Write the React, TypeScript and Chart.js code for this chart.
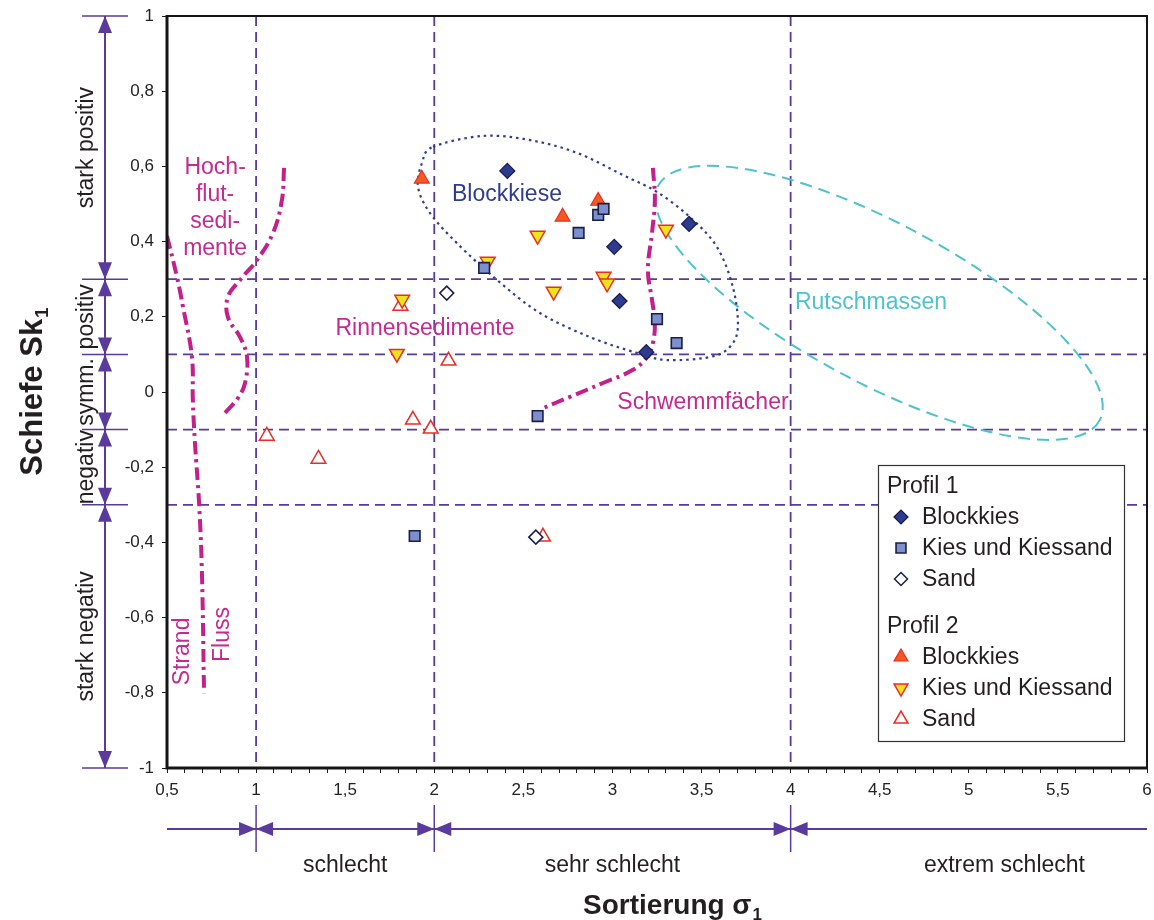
import React, { useEffect, useRef } from 'react';
import { Chart, registerables } from 'chart.js';
import { drawPoint } from 'chart.js/helpers';

Chart.register(...registerables);

// ---------- Data ----------
// Profil 1
const P1_BLOCK_X = [2.41, 3.01, 3.04, 3.43, 3.19];
const P1_BLOCK_Y = [0.588, 0.386, 0.242, 0.447, 0.106];
const P1_KIES_X = [2.28, 2.81, 2.92, 2.95, 3.25, 3.36, 2.58, 1.89];
const P1_KIES_Y = [0.33, 0.423, 0.471, 0.487, 0.194, 0.13, -0.064, -0.383];
const P1_SAND_X = [2.07, 2.57];
const P1_SAND_Y = [0.263, -0.386];
// Profil 2
const P2_BLOCK_X = [1.93, 2.72, 2.92];
const P2_BLOCK_Y = [0.567, 0.466, 0.508];
const P2_KIES_X = [2.3, 2.58, 2.67, 2.95, 2.97, 3.3, 1.82, 1.79];
const P2_KIES_Y = [0.347, 0.416, 0.267, 0.307, 0.289, 0.432, 0.246, 0.102];
const P2_SAND_X = [1.81, 2.08, 1.88, 1.98, 1.06, 1.35, 2.61];
const P2_SAND_Y = [0.229, 0.083, -0.074, -0.098, -0.117, -0.178, -0.385];

// Boundary curves (dash-dot)
const STRAND_X = [0.5, 0.556, 0.59, 0.64, 0.645, 0.657, 0.68, 0.696, 0.708];
const STRAND_Y = [0.415, 0.306, 0.226, 0.093, -0.021, -0.136, -0.295, -0.481, -0.801];
const HOCHFLUT_X = [1.157, 1.145, 1.095, 1.005, 0.91, 0.842, 0.842, 0.91, 0.949, 0.938, 0.898, 0.825];
const HOCHFLUT_Y = [0.596, 0.511, 0.423, 0.351, 0.298, 0.253, 0.199, 0.146, 0.093, 0.024, -0.016, -0.056];
const SCHWEMM_X = [3.227, 3.238, 3.222, 3.199, 3.222, 3.238, 3.227, 3.194, 3.115, 2.947, 2.761, 2.61];
const SCHWEMM_Y = [0.596, 0.511, 0.423, 0.324, 0.245, 0.184, 0.13, 0.093, 0.059, 0.024, -0.013, -0.043];

// Field outlines
const BLOCKKIESE_X = [1.993, 2.273, 2.537, 2.801, 3.059, 3.25, 3.435, 3.586, 3.676, 3.704, 3.659, 3.547, 3.306, 3.137, 2.874, 2.593, 2.352, 2.127, 1.976, 1.909, 1.931];
const BLOCKKIESE_Y = [0.652, 0.681, 0.67, 0.636, 0.577, 0.532, 0.465, 0.386, 0.279, 0.173, 0.12, 0.093, 0.085, 0.104, 0.146, 0.21, 0.298, 0.396, 0.476, 0.545, 0.609];
const RUTSCH_CENTER = [4.496, 0.237];
const RUTSCH_AXIS_END = [5.734, -0.0755];
const RUTSCH_RATIO = 0.32;

// Class boundaries
const V_LINES = [1, 2, 4];
const H_LINES = [0.3, 0.1, -0.1, -0.3];
const SKEW_BOUNDS = [1, 0.3, 0.1, -0.1, -0.3, -1];
const SKEW_CLASSES = ['stark positiv', 'positiv', 'symm.', 'negativ', 'stark negativ'];
const SORT_BOUNDS = [1, 2, 4];
const SORT_CLASSES = ['schlecht', 'sehr schlecht', 'extrem schlecht'];
const SORT_CLASS_AT = [1.5, 3, 5.2];

// ---------- Styles ----------
const FONT = '"Liberation Sans", Arial, Helvetica, sans-serif';
const PURPLE = '#5a3a9c';
const MAGENTA = '#c4208c';
const MAGENTA_TEXT = '#c42a8f';
const BLUE = '#2e3d8f';
const CYAN = '#4cc3cd';
const TEXT = '#231f20';

const SERIES = [
  { group: 'Profil 1', label: 'Blockkies', xs: P1_BLOCK_X, ys: P1_BLOCK_Y, style: 'rectRot', rot: 0, r: 7.5, fill: '#2d3a8e', stroke: '#141a4f', bw: 1.2 },
  { group: 'Profil 1', label: 'Kies und Kiessand', xs: P1_KIES_X, ys: P1_KIES_Y, style: 'rect', rot: 0, r: 7.5, fill: '#7d8fcc', stroke: '#1a1f4a', bw: 1.6 },
  { group: 'Profil 1', label: 'Sand', xs: P1_SAND_X, ys: P1_SAND_Y, style: 'rectRot', rot: 0, r: 7, fill: '#ffffff', stroke: '#1a1f4a', bw: 1.5 },
  { group: 'Profil 2', label: 'Blockkies', xs: P2_BLOCK_X, ys: P2_BLOCK_Y, style: 'triangle', rot: 0, r: 8.5, fill: '#f25a22', stroke: '#ee2a24', bw: 1.2 },
  { group: 'Profil 2', label: 'Kies und Kiessand', xs: P2_KIES_X, ys: P2_KIES_Y, style: 'triangle', rot: 180, r: 8.5, fill: '#ece51c', stroke: '#ee2a24', bw: 1.5 },
  { group: 'Profil 2', label: 'Sand', xs: P2_SAND_X, ys: P2_SAND_Y, style: 'triangle', rot: 0, r: 8.5, fill: '#ffffff', stroke: '#ee2a24', bw: 1.5 },
];

const CURVES = [
  { xs: STRAND_X, ys: STRAND_Y },
  { xs: HOCHFLUT_X, ys: HOCHFLUT_Y },
  { xs: SCHWEMM_X, ys: SCHWEMM_Y },
];

const PLOT_LABELS = [
  { lines: ['Hoch-', 'flut-', 'sedi-', 'mente'], x: 0.77, y: 0.596, color: MAGENTA_TEXT, rot: 0 },
  { lines: ['Rinnensedimente'], x: 1.948, y: 0.168, color: MAGENTA_TEXT, rot: 0 },
  { lines: ['Blockkiese'], x: 2.408, y: 0.524, color: BLUE, rot: 0 },
  { lines: ['Rutschmassen'], x: 4.451, y: 0.237, color: CYAN, rot: 0 },
  { lines: ['Schwemmfächer'], x: 3.508, y: -0.029, color: MAGENTA_TEXT, rot: 0 },
  { lines: ['Strand'], x: 0.59, y: -0.69, color: MAGENTA_TEXT, rot: -90 },
  { lines: ['Fluss'], x: 0.81, y: -0.645, color: MAGENTA_TEXT, rot: -90 },
];

const fmt = (v: number) => String(Math.round(v * 10) / 10).replace('.', ',');
const isHalf = (v: number) => Math.abs(v * 2 - Math.round(v * 2)) < 1e-6;

function arrowHead(ctx: CanvasRenderingContext2D, tx: number, ty: number, dx: number, dy: number, len = 17, half = 7) {
  const bx = tx - dx * len;
  const by = ty - dy * len;
  const px = -dy;
  const py = dx;
  ctx.beginPath();
  ctx.moveTo(tx, ty);
  ctx.lineTo(bx + px * half, by + py * half);
  ctx.lineTo(bx - px * half, by - py * half);
  ctx.closePath();
  ctx.fill();
}

function closedSpline(ctx: CanvasRenderingContext2D, pts: number[][]) {
  const n = pts.length;
  ctx.beginPath();
  ctx.moveTo(pts[0][0], pts[0][1]);
  for (let i = 0; i < n; i++) {
    const p0 = pts[(i - 1 + n) % n];
    const p1 = pts[i];
    const p2 = pts[(i + 1) % n];
    const p3 = pts[(i + 2) % n];
    ctx.bezierCurveTo(
      p1[0] + (p2[0] - p0[0]) / 6, p1[1] + (p2[1] - p0[1]) / 6,
      p2[0] - (p3[0] - p1[0]) / 6, p2[1] - (p3[1] - p1[1]) / 6,
      p2[0], p2[1]
    );
  }
  ctx.closePath();
  ctx.stroke();
}

function drawMarker(ctx: CanvasRenderingContext2D, s: any, px: number, py: number) {
  ctx.save();
  ctx.fillStyle = s.fill;
  ctx.strokeStyle = s.stroke;
  ctx.lineWidth = s.bw;
  ctx.setLineDash([]);
  drawPoint(ctx, { pointStyle: s.style, rotation: s.rot, radius: s.r, borderWidth: s.bw } as any, px, py);
  ctx.restore();
}

function subTitle(ctx: CanvasRenderingContext2D, main: string, sub: string, size: number) {
  ctx.font = `bold ${size}px ${FONT}`;
  const w1 = ctx.measureText(main).width;
  ctx.font = `bold ${Math.round(size * 0.62)}px ${FONT}`;
  const w2 = ctx.measureText(sub).width;
  const start = -(w1 + w2) / 2;
  ctx.textAlign = 'left';
  ctx.textBaseline = 'alphabetic';
  ctx.font = `bold ${size}px ${FONT}`;
  ctx.fillText(main, start, size * 0.36);
  ctx.font = `bold ${Math.round(size * 0.62)}px ${FONT}`;
  ctx.fillText(sub, start + w1 + 1, size * 0.36 + size * 0.2);
}

const decoPlugin = {
  id: 'deco',
  beforeDatasetsDraw(chart: any) {
    const { ctx, chartArea: a, scales } = chart;
    const x = scales.x;
    const y = scales.y;
    ctx.save();
    ctx.beginPath();
    ctx.rect(a.left, a.top, a.right - a.left, a.bottom - a.top);
    ctx.clip();

    // class boundary dashed lines
    ctx.strokeStyle = PURPLE;
    ctx.lineWidth = 1.8;
    ctx.setLineDash([10, 6]);
    for (const v of V_LINES) {
      const px = x.getPixelForValue(v);
      ctx.beginPath();
      ctx.moveTo(px, a.top);
      ctx.lineTo(px, a.bottom);
      ctx.stroke();
    }
    for (const v of H_LINES) {
      const py = y.getPixelForValue(v);
      ctx.beginPath();
      ctx.moveTo(a.left, py);
      ctx.lineTo(a.right, py);
      ctx.stroke();
    }

    // Rutschmassen ellipse
    const cx = x.getPixelForValue(RUTSCH_CENTER[0]);
    const cy = y.getPixelForValue(RUTSCH_CENTER[1]);
    const ex = x.getPixelForValue(RUTSCH_AXIS_END[0]);
    const ey = y.getPixelForValue(RUTSCH_AXIS_END[1]);
    const rx = Math.hypot(ex - cx, ey - cy);
    ctx.strokeStyle = CYAN;
    ctx.lineWidth = 2;
    ctx.setLineDash([12, 7]);
    ctx.beginPath();
    ctx.ellipse(cx, cy, rx, rx * RUTSCH_RATIO, Math.atan2(ey - cy, ex - cx), 0, Math.PI * 2);
    ctx.stroke();

    // Blockkiese outline
    const pts = BLOCKKIESE_X.map((v, i) => [x.getPixelForValue(v), y.getPixelForValue(BLOCKKIESE_Y[i])]);
    ctx.strokeStyle = BLUE;
    ctx.lineWidth = 2.2;
    ctx.setLineDash([2.5, 4]);
    closedSpline(ctx, pts);

    // labels
    ctx.setLineDash([]);
    ctx.font = `23px ${FONT}`;
    ctx.textAlign = 'center';
    ctx.textBaseline = 'middle';
    for (const l of PLOT_LABELS) {
      const px = x.getPixelForValue(l.x);
      const py = y.getPixelForValue(l.y);
      ctx.fillStyle = l.color;
      ctx.save();
      ctx.translate(px, py);
      ctx.rotate((l.rot * Math.PI) / 180);
      l.lines.forEach((t, i) => ctx.fillText(t, 0, i * 27));
      ctx.restore();
    }
    ctx.restore();
  },
  afterDatasetsDraw(chart: any) {
    const { ctx, chartArea: a } = chart;
    ctx.save();
    // frame
    ctx.setLineDash([]);
    ctx.strokeStyle = '#151515';
    ctx.lineWidth = 2;
    ctx.beginPath();
    ctx.moveTo(a.left, a.top);
    ctx.lineTo(a.right, a.top);
    ctx.lineTo(a.right, a.bottom);
    ctx.stroke();
    ctx.lineWidth = 3;
    ctx.beginPath();
    ctx.moveTo(a.left, a.top - 1);
    ctx.lineTo(a.left, a.bottom);
    ctx.lineTo(a.right + 1, a.bottom);
    ctx.stroke();

    // legend
    const bw = 246;
    const bh = 276;
    const left = a.right - 23 - bw;
    const top = a.bottom - 27 - bh;
    ctx.fillStyle = '#ffffff';
    ctx.fillRect(left, top, bw, bh);
    ctx.strokeStyle = '#333333';
    ctx.lineWidth = 1.2;
    ctx.strokeRect(left + 0.5, top + 0.5, bw, bh);
    ctx.textBaseline = 'middle';
    ctx.textAlign = 'left';
    const groups = ['Profil 1', 'Profil 2'];
    groups.forEach((g, gi) => {
      const gy = top + 22 + gi * 140;
      ctx.fillStyle = TEXT;
      ctx.font = `23px ${FONT}`;
      ctx.fillText(g, left + 9, gy);
      SERIES.filter((s) => s.group === g).forEach((s, i) => {
        const ry = gy + 30 + i * 31;
        drawMarker(ctx, { ...s, r: s.r - 0.5 }, left + 23, ry);
        ctx.fillStyle = TEXT;
        ctx.font = `23px ${FONT}`;
        ctx.textBaseline = 'middle';
        ctx.textAlign = 'left';
        ctx.fillText(s.label, left + 44, ry + 1);
      });
    });
    ctx.restore();
  },
  afterDraw(chart: any) {
    const { ctx, chartArea: a, scales } = chart;
    const x = scales.x;
    const y = scales.y;
    ctx.save();
    ctx.setLineDash([]);
    ctx.strokeStyle = PURPLE;
    ctx.fillStyle = PURPLE;
    ctx.lineWidth = 2;

    // skewness classes (left)
    const ax = 105;
    const ys = SKEW_BOUNDS.map((v) => y.getPixelForValue(v));
    ctx.beginPath();
    ctx.moveTo(ax, ys[0]);
    ctx.lineTo(ax, ys[ys.length - 1]);
    ctx.stroke();
    ctx.lineWidth = 1.5;
    ys.forEach((py) => {
      ctx.beginPath();
      ctx.moveTo(82, py);
      ctx.lineTo(128, py);
      ctx.stroke();
    });
    for (let i = 0; i < ys.length - 1; i++) {
      arrowHead(ctx, ax, ys[i], 0, -1);
      arrowHead(ctx, ax, ys[i + 1], 0, 1);
    }
    ctx.fillStyle = TEXT;
    ctx.font = `23px ${FONT}`;
    ctx.textAlign = 'center';
    ctx.textBaseline = 'middle';
    SKEW_CLASSES.forEach((t, i) => {
      const cy = (ys[i] + ys[i + 1]) / 2;
      ctx.save();
      ctx.translate(87, cy);
      ctx.rotate(-Math.PI / 2);
      ctx.fillText(t, 0, 0);
      ctx.restore();
    });

    // sorting classes (bottom)
    const by = 829;
    ctx.strokeStyle = PURPLE;
    ctx.fillStyle = PURPLE;
    ctx.lineWidth = 2;
    ctx.beginPath();
    ctx.moveTo(a.left, by);
    ctx.lineTo(a.right, by);
    ctx.stroke();
    ctx.lineWidth = 1.5;
    for (const v of SORT_BOUNDS) {
      const px = x.getPixelForValue(v);
      ctx.beginPath();
      ctx.moveTo(px, 805);
      ctx.lineTo(px, 852);
      ctx.stroke();
      arrowHead(ctx, px, by, 1, 0);
      arrowHead(ctx, px, by, -1, 0);
    }
    ctx.fillStyle = TEXT;
    ctx.font = `23px ${FONT}`;
    ctx.textAlign = 'center';
    ctx.textBaseline = 'middle';
    SORT_CLASSES.forEach((t, i) => {
      ctx.fillText(t, x.getPixelForValue(SORT_CLASS_AT[i]), 866);
    });

    // axis titles
    ctx.fillStyle = TEXT;
    ctx.save();
    ctx.translate((a.left + a.right) / 2 + 15, 904);
    subTitle(ctx, 'Sortierung σ', '1', 28);
    ctx.restore();
    ctx.save();
    ctx.translate(31, y.getPixelForValue(0));
    ctx.rotate(-Math.PI / 2);
    subTitle(ctx, 'Schiefe Sk', '1', 31);
    ctx.restore();
    ctx.restore();
  },
};

export default function App() {
  const ref = useRef<HTMLCanvasElement | null>(null);
  useEffect(() => {
    if (!ref.current) return;
    const datasets: any[] = [];
    CURVES.forEach((c) => {
      datasets.push({
        data: c.xs.map((v, i) => ({ x: v, y: c.ys[i] })),
        showLine: true,
        borderColor: MAGENTA,
        borderWidth: 4,
        borderDash: [13, 5, 3, 5],
        tension: 0.4,
        pointRadius: 0,
        fill: false,
        order: 2,
      });
    });
    SERIES.forEach((s) => {
      datasets.push({
        label: `${s.group} ${s.label}`,
        data: s.xs.map((v, i) => ({ x: v, y: s.ys[i] })),
        showLine: false,
        pointStyle: s.style,
        rotation: s.rot,
        pointRadius: s.r,
        pointBackgroundColor: s.fill,
        pointBorderColor: s.stroke,
        pointBorderWidth: s.bw,
        order: 1,
      });
    });
    const chart = new Chart(ref.current, {
      type: 'scatter',
      data: { datasets },
      options: {
        animation: false,
        responsive: true,
        maintainAspectRatio: false,
        layout: { autoPadding: false, padding: { left: 0, right: 7, top: 16, bottom: 0 } },
        plugins: { legend: { display: false }, tooltip: { enabled: false } },
        events: [],
        scales: {
          x: {
            type: 'linear',
            min: 0.5,
            max: 6,
            afterFit: (s: any) => {
              s.height = 152;
              s.paddingRight = 0;
              s.paddingLeft = 0;
            },
            ticks: {
              stepSize: 0.1,
              autoSkip: false,
              maxRotation: 0,
              minRotation: 0,
              padding: 7,
              color: '#222',
              font: { family: FONT, size: 17 },
              callback: (v: any) => (isHalf(Number(v)) ? fmt(Number(v)) : ''),
            },
            grid: { drawOnChartArea: false, drawTicks: true, tickLength: 5, color: '#222', lineWidth: 1 },
            border: { display: false },
          },
          y: {
            type: 'linear',
            min: -1,
            max: 1,
            afterFit: (s: any) => {
              s.width = 167;
              s.paddingTop = 0;
              s.paddingBottom = 0;
            },
            ticks: {
              stepSize: 0.2,
              padding: 8,
              color: '#222',
              font: { family: FONT, size: 17 },
              callback: (v: any) => fmt(Number(v)),
            },
            grid: { drawOnChartArea: false, drawTicks: true, tickLength: 5, color: '#222', lineWidth: 1 },
            border: { display: false },
          },
        },
      },
      plugins: [decoPlugin],
    } as any);
    return () => chart.destroy();
  }, []);
  return (
    <div style={{ position: 'absolute', left: 0, top: 0, width: 1154, height: 920, background: '#fff' }}>
      <canvas ref={ref} />
    </div>
  );
}
